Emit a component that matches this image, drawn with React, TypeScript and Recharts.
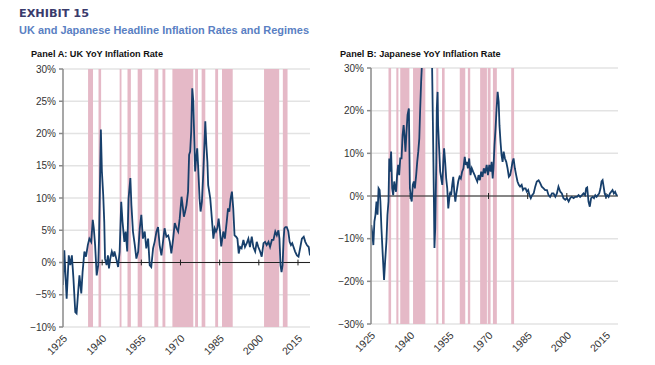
import { ComposedChart, Line, XAxis, YAxis, CartesianGrid, ReferenceArea, ReferenceLine } from "recharts";

// x range of both panels (years)
const START = 1925;
const END = 2019.6;
const yearTicks = [1925, 1940, 1955, 1970, 1985, 2000, 2015];
const ukTicks = [-10, -5, 0, 5, 10, 15, 20, 25, 30];
const jpTicks = [-30, -20, -10, 0, 10, 20, 30];

// shaded regime periods [from, to]
const ukRegimes = [
  [1934.6, 1936.5], [1938.6, 1939.6], [1946.7, 1947.4], [1949.7, 1951.0],
  [1953.6, 1955.3], [1960.0, 1961.5], [1963.1, 1964.2], [1966.9, 1974.9],
  [1975.6, 1976.7], [1978.1, 1979.5], [1983.3, 1984.4], [1985.9, 1990.0],
  [2002.0, 2007.8], [2009.2, 2011.0],
];
const jpRegimes = [
  [1931.7, 1932.7], [1934.7, 1935.5], [1936.2, 1939.7], [1941.1, 1945.8],
  [1950.0, 1950.8], [1952.2, 1953.2], [1959.0, 1961.1], [1962.1, 1963.0],
  [1966.8, 1969.4], [1969.7, 1970.8], [1971.7, 1973.2], [1978.7, 1979.8],
];

// UK YoY inflation, % [year, value]
const ukInflation = [
  [1925.0, -3.5], [1925.5, 1.9], [1926.4, -5.6], [1927.2, 1.1], [1927.8, -0.4], [1928.4, 1.1],
  [1929.0, -2.5], [1929.7, -7.7], [1930.2, -7.9], [1930.8, -4.6], [1931.3, -2.0], [1932.0, -4.8],
  [1932.5, -1.5], [1933.2, 1.7], [1933.8, 0.9], [1934.5, 2.7], [1935.1, 3.7], [1935.8, 3.2],
  [1936.4, 6.6], [1936.8, 5.3], [1937.3, 2.7], [1937.9, -2.0], [1938.5, -0.4], [1938.8, 3.7],
  [1939.5, 20.6], [1939.9, 14.1], [1940.4, 10.5], [1940.8, 6.3], [1941.1, 0.6], [1941.7, -0.4],
  [1942.2, 1.1], [1942.6, -0.9], [1943.1, 0.6], [1943.7, 1.7], [1944.3, 0.9], [1944.7, 1.7],
  [1945.4, 0.6], [1946.1, -0.7], [1946.7, 1.7], [1947.3, 9.4], [1947.8, 6.3], [1948.5, 3.2],
  [1949.0, 4.8], [1949.6, 1.7], [1950.1, 9.9], [1950.8, 13.1], [1951.2, 8.9], [1951.8, 4.8],
  [1952.5, 2.7], [1953.1, 0.6], [1953.8, 1.7], [1954.4, 5.3], [1955.0, 7.4], [1955.6, 3.7],
  [1956.3, 4.8], [1956.9, 2.2], [1957.6, 3.7], [1958.2, -0.4], [1958.8, -0.7], [1959.5, 2.2],
  [1960.1, 3.2], [1960.8, 4.8], [1961.4, 5.5], [1962.0, 2.7], [1962.7, 1.1], [1963.3, 3.2],
  [1963.9, 5.3], [1964.6, 4.0], [1965.3, 4.2], [1965.9, 3.2], [1966.5, 1.4], [1967.2, 3.7],
  [1967.8, 6.1], [1968.5, 5.3], [1969.1, 4.8], [1969.7, 6.8], [1970.4, 10.2], [1970.8, 8.9],
  [1971.3, 7.1], [1971.8, 7.9], [1972.3, 8.9], [1972.9, 11.0], [1973.3, 16.7], [1973.7, 17.2],
  [1974.1, 20.3], [1974.5, 27.0], [1974.9, 25.0], [1975.3, 18.8], [1975.6, 14.1], [1976.0, 16.2],
  [1976.4, 17.7], [1976.8, 14.6], [1977.3, 9.9], [1977.7, 7.9], [1978.2, 9.4], [1978.7, 13.6],
  [1979.1, 17.7], [1979.5, 21.9], [1979.9, 18.2], [1980.3, 15.6], [1980.6, 12.0], [1981.0, 11.0],
  [1981.4, 9.9], [1981.8, 7.9], [1982.2, 5.8], [1982.6, 3.7], [1983.1, 5.3], [1983.6, 4.8],
  [1984.1, 5.3], [1984.6, 6.8], [1985.1, 5.0], [1985.6, 2.5], [1986.4, 4.8], [1987.0, 3.7],
  [1987.7, 6.3], [1988.2, 8.4], [1988.7, 7.9], [1989.2, 9.9], [1989.7, 11.0], [1990.2, 8.4],
  [1990.7, 4.2], [1991.3, 4.0], [1991.8, 3.7], [1992.3, 1.4], [1992.8, 2.4], [1993.4, 2.2],
  [1994.1, 3.5], [1994.7, 2.4], [1995.4, 3.0], [1996.0, 3.7], [1996.6, 2.4], [1997.3, 4.0],
  [1997.9, 2.4], [1998.6, 1.7], [1999.2, 3.2], [1999.8, 2.4], [2000.5, 1.7], [2001.1, 0.9],
  [2001.8, 3.0], [2002.4, 3.2], [2003.0, 2.7], [2003.7, 3.2], [2004.3, 2.4], [2005.0, 3.5],
  [2005.6, 3.5], [2006.3, 4.8], [2006.9, 4.2], [2007.5, 5.0], [2007.9, 3.7], [2008.3, -0.4],
  [2008.7, -1.5], [2009.1, -0.4], [2009.5, 3.7], [2009.8, 5.3], [2010.2, 5.5], [2010.7, 5.5],
  [2011.3, 4.8], [2011.8, 3.2], [2012.3, 2.7], [2012.8, 3.0], [2013.3, 2.4], [2013.9, 1.7],
  [2014.6, 1.1], [2015.2, 0.9], [2015.9, 2.4], [2016.5, 3.7], [2017.2, 4.0], [2017.8, 3.2],
  [2018.4, 2.7], [2019.1, 2.4], [2019.6, 1.1],
];

// Japanese YoY inflation, % [year, value] (1945-48 runs far above the axis)
const jpInflation = [
  [1925.1, -6.8], [1925.4, -8.3], [1925.9, -11.5], [1926.3, -6.0], [1926.7, -4.4], [1927.1, -1.3],
  [1927.5, -4.4], [1927.9, 1.8], [1928.3, 1.4], [1928.6, -1.3], [1929.0, -7.6], [1929.5, -13.8],
  [1930.0, -19.7], [1930.4, -15.4], [1930.9, -10.7], [1931.3, -4.4], [1931.7, -1.3], [1932.0, 8.8],
  [1932.3, 5.7], [1932.7, 10.4], [1933.1, 1.8], [1933.5, 0.2], [1933.9, 3.4], [1934.3, 1.8],
  [1934.6, 1.0], [1935.0, 4.9], [1935.4, 7.3], [1935.8, 4.9], [1936.2, 8.8], [1936.7, 8.8],
  [1937.1, 14.3], [1937.5, 16.6], [1937.9, 13.5], [1938.2, 10.4], [1938.6, 15.1], [1939.0, 19.0],
  [1939.5, 20.5], [1939.9, 1.8], [1940.3, -0.5], [1940.6, -1.3], [1941.0, 2.6], [1941.4, 3.4],
  [1941.8, 1.8], [1942.3, 4.9], [1942.7, 8.0], [1943.1, 10.4], [1943.5, 13.5], [1943.8, 19.7],
  [1944.2, 26.8], [1944.5, 30.7], [1944.9, 45], [1945.5, 150], [1946.3, 350], [1947.2, 250],
  [1948.0, 90], [1948.4, 30.4], [1948.7, 17.4], [1949.1, -1.3], [1949.3, -12.2], [1949.6, -7.6],
  [1950.0, 8.0], [1950.2, 20.5], [1950.5, 24.4], [1950.7, 16.6], [1951.1, 11.2], [1951.5, 5.7],
  [1951.9, 4.1], [1952.3, 2.6], [1952.7, 8.0], [1953.0, 11.2], [1953.4, 8.0], [1953.8, 4.1],
  [1954.2, 1.8], [1954.6, -2.9], [1955.0, -0.5], [1955.4, 1.0], [1955.7, 0.2], [1956.1, 2.6],
  [1956.5, 4.5], [1956.9, 1.0], [1957.3, -1.3], [1957.6, 0.2], [1958.0, 1.8], [1958.4, 3.4],
  [1958.9, 4.5], [1959.4, 4.1], [1959.9, 5.7], [1960.4, 6.5], [1960.9, 9.2], [1961.3, 7.3],
  [1961.7, 8.0], [1962.1, 6.5], [1962.6, 8.8], [1963.1, 4.9], [1963.6, 6.5], [1964.1, 5.7],
  [1964.7, 4.9], [1965.2, 4.1], [1965.7, 3.4], [1966.2, 4.9], [1966.7, 3.7], [1967.2, 5.7],
  [1967.7, 4.5], [1968.2, 6.5], [1968.7, 5.3], [1969.3, 7.3], [1969.8, 4.9], [1970.3, 7.3],
  [1970.8, 5.7], [1971.2, 8.0], [1971.6, 4.1], [1971.9, 6.5], [1972.3, 11.9], [1972.7, 15.8],
  [1973.1, 20.5], [1973.5, 24.4], [1973.9, 22.1], [1974.2, 16.6], [1974.6, 12.7], [1975.0, 9.6],
  [1975.4, 8.0], [1975.8, 10.4], [1976.3, 8.8], [1976.8, 8.0], [1977.3, 6.5], [1977.8, 4.5],
  [1978.3, 4.9], [1978.8, 6.5], [1979.2, 8.0], [1979.6, 8.8], [1980.1, 6.5], [1980.6, 4.9],
  [1981.1, 3.4], [1981.6, 2.6], [1982.1, 2.2], [1982.7, 2.6], [1983.2, 1.4], [1983.7, 1.8],
  [1984.2, 1.8], [1984.7, 1.0], [1985.2, 1.4], [1985.7, 0.2], [1986.2, -0.5], [1986.7, 0.2],
  [1987.3, 0.6], [1987.9, 2.2], [1988.5, 3.4], [1989.2, 3.7], [1989.8, 3.0], [1990.4, 2.2],
  [1991.1, 1.8], [1991.7, 1.4], [1992.4, 1.4], [1993.0, 0.2], [1993.6, -0.2], [1994.3, 0.6],
  [1994.9, 0.6], [1995.6, -0.2], [1996.2, 0.6], [1996.8, 2.2], [1997.5, 1.0], [1998.1, 0.6],
  [1998.7, -0.5], [1999.4, -0.9], [2000.0, -0.5], [2000.7, -1.3], [2001.3, -0.5], [2001.9, -0.2],
  [2002.6, -0.5], [2003.2, -0.2], [2003.9, -0.2], [2004.5, 0.2], [2005.1, -0.2], [2005.8, 0.2],
  [2006.4, 0.6], [2007.0, 0.2], [2007.4, 1.8], [2007.8, 2.0], [2008.3, -1.3], [2008.8, -2.5],
  [2009.3, -0.5], [2009.9, -0.2], [2010.4, -0.5], [2010.9, 0.2], [2011.4, -0.2], [2011.9, 0.2],
  [2012.4, 0.6], [2012.9, 1.8], [2013.3, 3.4], [2013.7, 3.7], [2014.1, 2.2], [2014.5, 0.6],
  [2015.0, -0.2], [2015.5, 0.2], [2016.0, -0.2], [2016.5, 0.6], [2017.0, 1.0], [2017.5, 1.4],
  [2018.0, 0.6], [2018.5, 1.0], [2019.0, 0.2], [2019.4, 0.2],
];

const LINE = "#173f6b";
const PINK = "#e5b9c7";
const FONT = "'Liberation Sans', Arial, sans-serif";

const pct = (v: number) => (v < 0 ? "\u2212" + Math.abs(v) : String(v)) + "%";

function YearTick({ x, y, payload }: any) {
  return (
    <text
      x={x + 5}
      y={y + 4}
      transform={`rotate(-45 ${x + 5} ${y + 4})`}
      textAnchor="end"
      fontSize={10.5}
      fontFamily={FONT}
      fill="#333"
    >
      {payload.value}
    </text>
  );
}

function Panel({
  series,
  regimes,
  ticks,
  tickLen,
  width,
  height,
  margin,
  yWidth,
}: {
  series: number[][];
  regimes: number[][];
  ticks: number[];
  tickLen: number;
  width: number;
  height: number;
  margin: { top: number; right: number; bottom: number; left: number };
  yWidth: number;
}) {
  const data = series.map(([year, value]) => ({ year, value }));
  return (
    <ComposedChart width={width} height={height} data={data} margin={margin}>
      {regimes.map(([a, b], i) => (
        <ReferenceArea key={i} x1={a} x2={b} fill={PINK} fillOpacity={1} stroke="none" ifOverflow="hidden" />
      ))}
      <CartesianGrid vertical={false} stroke="#dcdcdc" strokeOpacity={0.8} strokeWidth={1.5} />
      <XAxis
        dataKey="year"
        type="number"
        domain={[START, END]}
        allowDataOverflow
        ticks={yearTicks}
        tick={<YearTick />}
        tickLine={false}
        axisLine={false}
        interval={0}
        height={30}
      />
      <YAxis
        type="number"
        domain={[ticks[0], ticks[ticks.length - 1]]}
        allowDataOverflow
        ticks={ticks}
        interval={0}
        tickFormatter={pct}
        width={yWidth}
        tickSize={4}
        tickMargin={3}
        stroke="#8a8a8a"
        strokeWidth={1.5}
        tick={{ fontSize: 10, fontFamily: FONT, fill: "#333" }}
      />
      <ReferenceLine y={0} stroke="#222" strokeWidth={1.2} />
      {yearTicks.slice(1).map((t) => (
        <ReferenceLine
          key={t}
          segment={[
            { x: t, y: -tickLen },
            { x: t, y: tickLen },
          ]}
          stroke="#222"
          strokeWidth={1}
        />
      ))}
      <Line
        type="linear"
        dataKey="value"
        stroke={LINE}
        strokeWidth={1.8}
        dot={false}
        isAnimationActive={false}
      />
    </ComposedChart>
  );
}

export default function App() {
  return (
    <div style={{ position: "absolute", left: 0, top: 0, width: 655, height: 365, background: "#fff" }}>
      <svg width={655} height={365} style={{ position: "absolute", left: 0, top: 0 }}>
        <text x={19} y={17.3} fontFamily="'DejaVu Sans', sans-serif" fontWeight="bold" fontSize={11} fill="#3a3b6c" textLength={70} lengthAdjust="spacingAndGlyphs">
          EXHIBIT 15
        </text>
        <text x={19} y={34.3} fontFamily={FONT} fontWeight="bold" fontSize={11} fill="#5a7fc3" textLength={290} lengthAdjust="spacingAndGlyphs">
          UK and Japanese Headline Inflation Rates and Regimes
        </text>
        <text x={31} y={57.3} fontFamily={FONT} fontWeight="bold" fontSize={9.5} fill="#111" textLength={132} lengthAdjust="spacingAndGlyphs">
          Panel A: UK YoY Inflation Rate
        </text>
        <text x={340} y={57.3} fontFamily={FONT} fontWeight="bold" fontSize={9.5} fill="#111" textLength={160.7} lengthAdjust="spacingAndGlyphs">
          Panel B: Japanese YoY Inflation Rate
        </text>
      </svg>
      <div style={{ position: "absolute", left: 0, top: 0 }}>
        <Panel
          series={ukInflation}
          regimes={ukRegimes}
          ticks={ukTicks}
          tickLen={0.45}
          width={320}
          height={365}
          margin={{ top: 69, right: 10, bottom: 8, left: 0 }}
          yWidth={63}
        />
      </div>
      <div style={{ position: "absolute", left: 320, top: 0 }}>
        <Panel
          series={jpInflation}
          regimes={jpRegimes}
          ticks={jpTicks}
          tickLen={0.7}
          width={335}
          height={365}
          margin={{ top: 68, right: 37, bottom: 11, left: 0 }}
          yWidth={51}
        />
      </div>
    </div>
  );
}
